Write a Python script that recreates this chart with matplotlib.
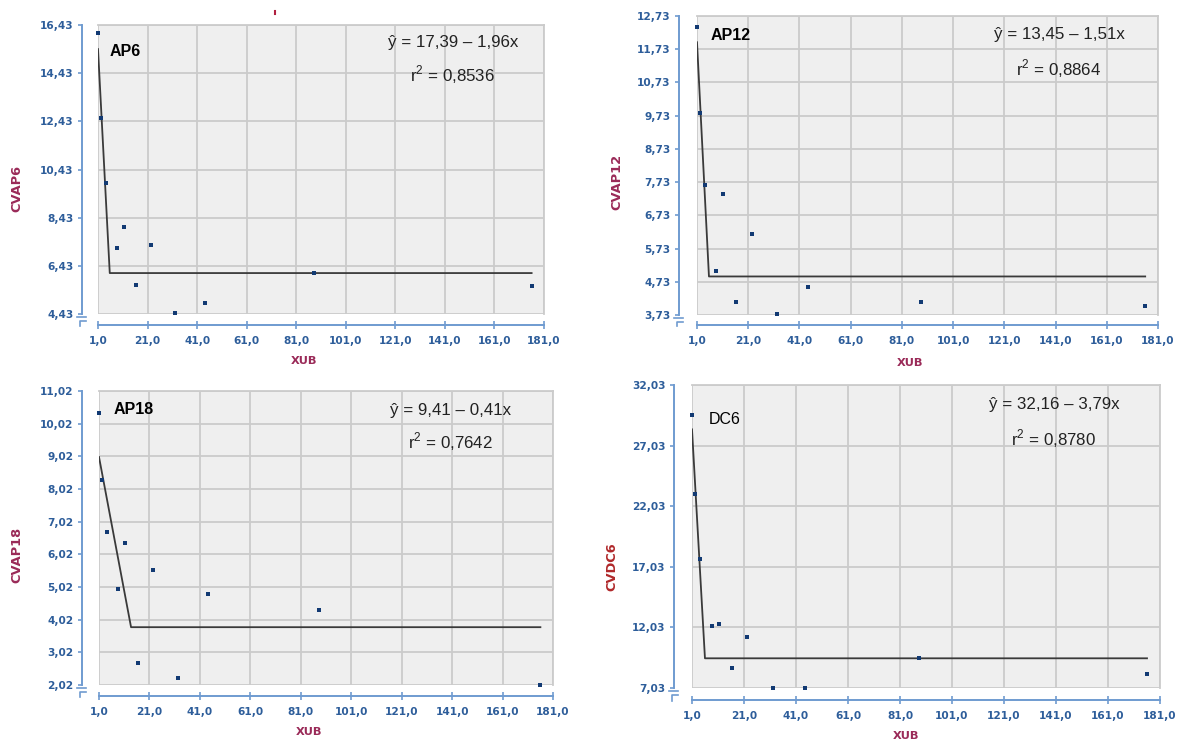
import numpy as np
import matplotlib
matplotlib.use("Agg")
from matplotlib import pyplot as plt
from matplotlib.lines import Line2D

# XUB values shared by the four panels
xub = [1.0, 2.2, 4.2, 8.5, 11.3, 16.4, 22.3, 32.2, 44.3, 88.3, 176.0]

cvap6 = [16.09, 12.56, 9.88, 7.16, 8.03, 5.62, 7.30, 4.46, 4.90, 6.13, 5.61]
cvap12 = [12.41, 9.80, 7.65, 5.06, 7.36, 4.11, 6.16, 3.75, 4.56, 4.11, 3.99]
cvap18 = [10.34, 8.29, 6.71, 4.95, 6.36, 2.70, 5.54, 2.22, 4.81, 4.33, 2.03]
cvdc6 = [29.55, 23.01, 17.65, 12.17, 12.34, 8.65, 11.26, 7.05, 7.05, 9.48, 8.21]

# linear-plateau fits: intercept, slope, plateau, r2
fit_ap6 = (17.39, 1.96, 6.13, 0.8536)
fit_ap12 = (13.45, 1.51, 4.89, 0.8864)
fit_ap18 = (9.41, 0.41, 3.79, 0.7642)
fit_dc6 = (32.16, 3.79, 9.48, 0.8780)

xticks = [1, 21, 41, 61, 81, 101, 121, 141, 161, 181]
xlabels = ["1,0", "21,0", "41,0", "61,0", "81,0", "101,0", "121,0", "141,0", "161,0", "181,0"]

yticks_ap6 = [4.43, 6.43, 8.43, 10.43, 12.43, 14.43, 16.43]
ylabels_ap6 = ["4,43", "6,43", "8,43", "10,43", "12,43", "14,43", "16,43"]
yticks_ap12 = [3.73, 4.73, 5.73, 6.73, 7.73, 8.73, 9.73, 10.73, 11.73, 12.73]
ylabels_ap12 = ["3,73", "4,73", "5,73", "6,73", "7,73", "8,73", "9,73", "10,73", "11,73", "12,73"]
yticks_ap18 = [2.02, 3.02, 4.02, 5.02, 6.02, 7.02, 8.02, 9.02, 10.02, 11.02]
ylabels_ap18 = ["2,02", "3,02", "4,02", "5,02", "6,02", "7,02", "8,02", "9,02", "10,02", "11,02"]
yticks_dc6 = [7.03, 12.03, 17.03, 22.03, 27.03, 32.03]
ylabels_dc6 = ["7,03", "12,03", "17,03", "22,03", "27,03", "32,03"]

W, H = 1184, 740
AXIS_BLUE = "#6f9bd0"
TICK_BLUE = "#2d5d9a"
MAROON = "#9a2a58"

fig = plt.figure(figsize=(W / 100, H / 100), dpi=100)


def fx(px):
    return px / W


def fy(py):
    return 1 - py / H


def panel(box, yoff, xoff, y, fit, yticks, ylabels, name, name_bold, ylab, ylab_pos, ylab_color,
          xlab_pos, name_pos, eq_pos):
    left, top, right, bottom = box
    ax = fig.add_axes([fx(left), fy(bottom), fx(right - left), (bottom - top) / H])
    ax.set_facecolor("#efefef")
    ax.set_xlim(xticks[0], xticks[-1])
    ax.set_ylim(yticks[0], yticks[-1])
    ax.grid(True, color="#cbcbcb", lw=1.3)
    ax.set_axisbelow(True)
    for s in ("top", "right"):
        ax.spines[s].set_color("#cbcbcb")
        ax.spines[s].set_linewidth(1.3)
    ax.spines["left"].set_position(("outward", yoff * 0.72))
    ax.spines["bottom"].set_position(("outward", xoff * 0.72))
    for s in ("left", "bottom"):
        ax.spines[s].set_color(AXIS_BLUE)
        ax.spines[s].set_linewidth(1.4)
    ax.set_xticks(xticks)
    ax.set_xticklabels(xlabels)
    ax.set_yticks(yticks)
    ax.set_yticklabels(ylabels)
    ax.tick_params(axis="y", direction="out", length=3, width=1.2, color=AXIS_BLUE,
                   labelcolor=TICK_BLUE, labelsize=7.6, pad=3)
    ax.tick_params(axis="x", direction="inout", length=6, width=1.2, color=AXIS_BLUE,
                   labelcolor=TICK_BLUE, labelsize=7.6, pad=5)
    for lab in ax.get_xticklabels() + ax.get_yticklabels():
        lab.set_fontweight("bold")

    # fitted linear-plateau line
    a, b, plateau, r2 = fit
    xv = (a - plateau) / b
    ax.plot([xub[0], xv, xub[-1]], [a - b * xub[0], plateau, plateau], color="#3a3a3a", lw=1.3,
            zorder=3)
    ax.scatter(xub, y, s=5, marker="s", color="#123a73", linewidths=0, zorder=4, clip_on=False)

    # axis break mark at the corner
    sx = left - yoff
    sy = bottom + xoff
    fig.add_artist(Line2D([fx(sx - 5), fx(sx + 4)], [fy(bottom + 3), fy(bottom + 3)],
                          color=AXIS_BLUE, lw=1.2))
    fig.add_artist(Line2D([fx(sx + 4), fx(sx - 2), fx(sx - 2)],
                          [fy(bottom + 7), fy(bottom + 7), fy(sy + 1)], color=AXIS_BLUE, lw=1.2))

    fig.text(fx(name_pos[0]), fy(name_pos[1]), name, ha="left", va="center",
             family="Liberation Sans", fontsize=11.5,
             fontweight="bold" if name_bold else "normal")
    eq = "ŷ = {} – {}x".format(str(a).replace(".", ","), str(b).replace(".", ","))
    rtxt = r"r$^{\mathregular{2}}$ = " + "{:.4f}".format(r2).replace(".", ",")
    fig.text(fx(eq_pos[0]), fy(eq_pos[1]), eq, ha="center", va="center",
             family="Liberation Sans", fontsize=12.2, color="#222222")
    fig.text(fx(eq_pos[2]), fy(eq_pos[3]), rtxt, ha="center", va="center",
             family="Liberation Sans", fontsize=12.2, color="#222222")
    fig.text(fx(ylab_pos[0]), fy(ylab_pos[1]), ylab, rotation=90, ha="center", va="center",
             fontsize=9.4, fontweight="bold", color=ylab_color)
    fig.text(fx(xlab_pos[0]), fy(xlab_pos[1]), "XUB", ha="center", va="center",
             fontsize=8.2, fontweight="bold", color=MAROON)
    return ax


panel((98, 25, 544, 314), 16, 11, cvap6, fit_ap6, yticks_ap6, ylabels_ap6, "AP6", True,
      "CVAP6", (17, 188), MAROON, (304, 361), (110, 52), (453, 43, 453, 75))
panel((697, 16, 1158, 315), 18, 10, cvap12, fit_ap12, yticks_ap12, ylabels_ap12, "AP12", True,
      "CVAP12", (617, 182), MAROON, (910, 363), (711, 36), (1059, 35, 1059, 69))
panel((99, 391, 553, 685), 17, 11, cvap18, fit_ap18, yticks_ap18, ylabels_ap18, "AP18", True,
      "CVAP18", (17, 555), MAROON, (309, 732), (114, 409), (451, 410, 450, 442))
panel((692, 385, 1160, 688), 18, 12, cvdc6, fit_dc6, yticks_dc6, ylabels_dc6, "DC6", False,
      "CVDC6", (612, 567), "#b0282a", (906, 736), (709, 419), (1054, 405, 1054, 439))

# small stray mark above the first panel
fig.add_artist(Line2D([fx(275), fx(275)], [fy(11), fy(14)], color="#b02040", lw=1.5))

fig.savefig("out.png", dpi=100)
